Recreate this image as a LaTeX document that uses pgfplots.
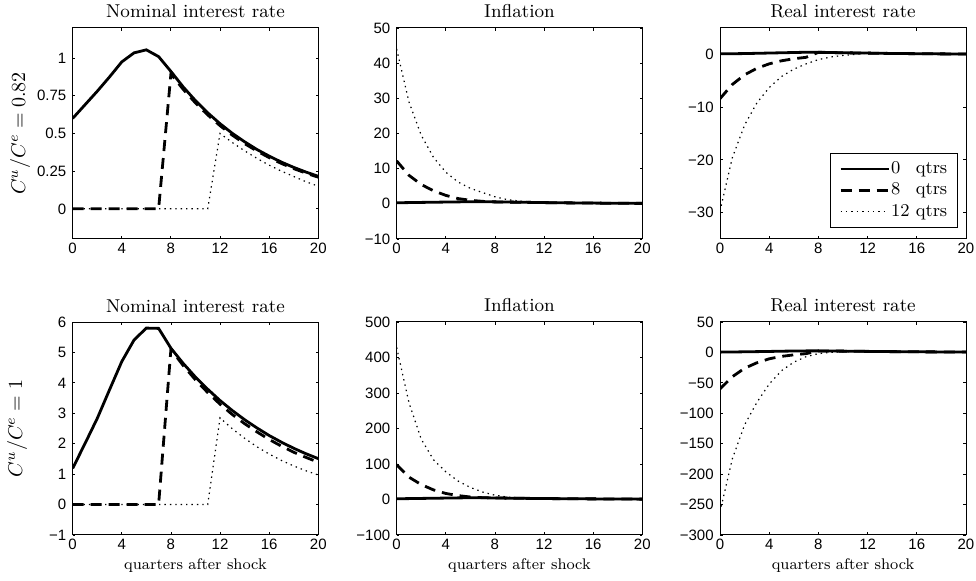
\documentclass[border=0pt]{standalone}
\usepackage{fontspec}
\newfontfamily\helv{Liberation Sans}
\usepackage{pgfplots}
\pgfplotsset{compat=1.18}

\pgfplotsset{
  every axis title shift=0pt,
  panel/.style={
    scale only axis, width=122.8pt, anchor=south west,
    xmin=0, xmax=20, xtick={0,4,...,20}, xticklabels={0,4,8,12,16,20},
    tick align=inside, tick pos=both, major tick length=1.3pt,
    axis line style={line width=0.5pt},
    every tick/.style={black, line width=0.4pt},
    tick label style={font=\helv\fontsize{7.5}{9}\selectfont},
    xticklabel style={anchor=north, inner sep=0pt, yshift=-1.8pt},
    yticklabel style={anchor=east, inner sep=0pt, xshift=-3pt},
    title style={font=\fontsize{9.3}{11}\selectfont, at={(0.5,1)}, anchor=base, yshift=5pt},
    xlabel style={font=\fontsize{7.7}{9}\selectfont, at={(axis description cs:0.5,0)}, anchor=base, yshift=-17.5pt},
    ylabel style={font=\fontsize{10}{12}\selectfont, anchor=center},
  },
  s0/.style={black, line width=1.4pt, solid},
  s8/.style={black, line width=1.4pt, dash pattern=on 5.5pt off 3.5pt},
  s12/.style={black, line width=0.6pt, dash pattern=on 0.7pt off 2pt},
}

\begin{document}
\begin{tikzpicture}
\useasboundingbox (0,0) rectangle (488pt,290.5pt);

% ---------- top row: C^u/C^e = 0.82 ----------
\begin{axis}[panel, at={(36.33pt,171pt)}, height=105.5pt,
  title={Nominal interest rate},
  ymin=-0.2, ymax=1.2, ytick={0,0.25,0.5,0.75,1}, yticklabels={0,0.25,0.5,0.75,1},
  ylabel={$C^u/C^e=0.82$}, ylabel style={at={(axis description cs:-0.214,0.5)}}]
\addplot[s0] coordinates {(0,0.60)(1,0.69)(2,0.78)(3,0.875)(4,0.975)(5,1.035)(6,1.055)(7,1.01)(8,0.912)
  (9,0.809)(10,0.718)(11,0.637)(12,0.565)(13,0.501)(14,0.445)(15,0.394)(16,0.350)(17,0.310)(18,0.275)(19,0.244)(20,0.216)};
\addplot[s8] coordinates {(0,0)(1,0)(2,0)(3,0)(4,0)(5,0)(6,0)(7,0)(8,0.895)
  (9,0.793)(10,0.703)(11,0.623)(12,0.552)(13,0.489)(14,0.433)(15,0.384)(16,0.340)(17,0.301)(18,0.267)(19,0.237)(20,0.210)};
\addplot[s12] coordinates {(0,0)(1,0)(2,0)(3,0)(4,0)(5,0)(6,0)(7,0)(8,0)(9,0)(10,0)(11,0)
  (12,0.50)(13,0.44)(14,0.385)(15,0.335)(16,0.29)(17,0.25)(18,0.215)(19,0.18)(20,0.15)};
\end{axis}

\begin{axis}[panel, at={(198.33pt,171pt)}, height=105.5pt,
  title={Inflation},
  ymin=-10, ymax=50, ytick={-10,0,...,50}, yticklabels={−10,0,10,20,30,40,50}]
\addplot[s0] coordinates {(0,0.3)(1,0.35)(2,0.4)(3,0.45)(4,0.5)(5,0.55)(6,0.6)(7,0.6)(8,0.55)(9,0.5)(10,0.45)
  (11,0.4)(12,0.35)(13,0.3)(14,0.27)(15,0.24)(16,0.21)(17,0.18)(18,0.16)(19,0.14)(20,0.12)};
\addplot[s8] coordinates {(0,12.2)(1,8.1)(2,5.5)(3,3.7)(4,2.4)(5,1.5)(6,1.0)(7,0.7)(8,0.55)(9,0.5)(10,0.45)
  (11,0.4)(12,0.35)(13,0.3)(14,0.27)(15,0.24)(16,0.21)(17,0.18)(18,0.16)(19,0.14)(20,0.12)};
\addplot[s12] coordinates {(0,44)(1,29)(2,19.5)(3,13.2)(4,9.0)(5,6.2)(6,4.4)(7,3.2)(8,2.0)(9,1.2)(10,0.8)
  (11,0.55)(12,0.4)(13,0.3)(14,0.27)(15,0.24)(16,0.21)(17,0.18)(18,0.16)(19,0.14)(20,0.12)};
\end{axis}

\begin{axis}[panel, at={(360pt,171pt)}, height=105.5pt, width=123pt,
  title={Real interest rate},
  ymin=-35, ymax=5, ytick={-30,-20,-10,0}, yticklabels={−30,−20,−10,0},
  legend style={at={(0.9675,0.052)}, anchor=south east, draw=black, line width=0.5pt,
    font=\fontsize{9}{11}\selectfont, inner xsep=4.5pt, inner ysep=3.5pt, row sep=2pt,
    nodes={inner sep=0.6pt}, cells={anchor=west}},
  legend image code/.code={\draw[#1] (0pt,0pt) -- (24pt,0pt);}]
\addplot[s0] coordinates {(0,0.1)(1,0.12)(2,0.15)(3,0.2)(4,0.25)(5,0.3)(6,0.35)(7,0.4)(8,0.4)(9,0.35)(10,0.3)
  (11,0.27)(12,0.24)(13,0.2)(14,0.17)(15,0.15)(16,0.13)(17,0.11)(18,0.09)(19,0.08)(20,0.07)};
\addlegendentry{0\phantom{2} qtrs}
\addplot[s8] coordinates {(0,-8.4)(1,-5.71)(2,-3.88)(3,-2.64)(4,-1.80)(5,-1.22)(6,-0.83)(7,-0.56)(8,0.38)(9,0.35)(10,0.3)
  (11,0.27)(12,0.24)(13,0.2)(14,0.17)(15,0.15)(16,0.13)(17,0.11)(18,0.09)(19,0.08)(20,0.07)};
\addlegendentry{8\phantom{2} qtrs}
\addplot[s12] coordinates {(0,-29.7)(1,-19.6)(2,-13.4)(3,-9.2)(4,-6.3)(5,-4.2)(6,-2.8)(7,-1.8)(8,-1.0)(9,-0.5)(10,-0.2)
  (11,0.0)(12,0.24)(13,0.2)(14,0.17)(15,0.15)(16,0.13)(17,0.11)(18,0.09)(19,0.08)(20,0.07)};
\addlegendentry{12 qtrs}
\end{axis}

% ---------- bottom row: C^u/C^e = 1 ----------
\begin{axis}[panel, at={(36.33pt,23pt)}, height=106.5pt,
  title={Nominal interest rate}, xlabel={quarters after shock},
  ymin=-1, ymax=6, ytick={-1,0,...,6}, yticklabels={−1,0,1,2,3,4,5,6},
  ylabel={$C^u/C^e=1$}, ylabel style={at={(axis description cs:-0.226,0.5)}}]
\addplot[s0] coordinates {(0,1.19)(1,2.0)(2,2.83)(3,3.77)(4,4.7)(5,5.41)(6,5.80)(7,5.79)(8,5.14)(9,4.64)(10,4.19)
  (11,3.79)(12,3.42)(13,3.09)(14,2.79)(15,2.52)(16,2.27)(17,2.05)(18,1.85)(19,1.67)(20,1.51)};
\addplot[s8] coordinates {(0,0)(1,0)(2,0)(3,0)(4,0)(5,0)(6,0)(7,0)(8,5.10)(9,4.57)(10,4.10)
  (11,3.68)(12,3.30)(13,2.96)(14,2.66)(15,2.39)(16,2.14)(17,1.92)(18,1.72)(19,1.55)(20,1.39)};
\addplot[s12] coordinates {(0,0)(1,0)(2,0)(3,0)(4,0)(5,0)(6,0)(7,0)(8,0)(9,0)(10,0)(11,0)
  (12,2.85)(13,2.49)(14,2.18)(15,1.90)(16,1.66)(17,1.45)(18,1.27)(19,1.11)(20,0.97)};
\end{axis}

\begin{axis}[panel, at={(198.33pt,23pt)}, height=106.5pt,
  title={Inflation}, xlabel={quarters after shock},
  ymin=-100, ymax=500, ytick={-100,0,...,500}, yticklabels={−100,0,100,200,300,400,500}]
\addplot[s0] coordinates {(0,2)(1,2.5)(2,3)(3,3.5)(4,4)(5,4.5)(6,4.8)(7,4.8)(8,4.3)(9,3.8)(10,3.4)
  (11,3.0)(12,2.7)(13,2.4)(14,2.1)(15,1.9)(16,1.7)(17,1.5)(18,1.3)(19,1.2)(20,1.0)};
\addplot[s8] coordinates {(0,98)(1,63)(2,42)(3,27)(4,17)(5,11)(6,7)(7,5)(8,4.3)(9,3.8)(10,3.4)
  (11,3.0)(12,2.7)(13,2.4)(14,2.1)(15,1.9)(16,1.7)(17,1.5)(18,1.3)(19,1.2)(20,1.0)};
\addplot[s12] coordinates {(0,428)(1,273)(2,170)(3,112)(4,78)(5,52)(6,34)(7,21)(8,12)(9,7)(10,4.5)
  (11,3.2)(12,2.7)(13,2.4)(14,2.1)(15,1.9)(16,1.7)(17,1.5)(18,1.3)(19,1.2)(20,1.0)};
\end{axis}

\begin{axis}[panel, at={(360pt,23pt)}, height=106.5pt, width=123pt,
  title={Real interest rate}, xlabel={quarters after shock},
  ymin=-300, ymax=50, ytick={-300,-250,...,50}, yticklabels={−300,−250,−200,−150,−100,−50,0,50}]
\addplot[s0] coordinates {(0,0.5)(1,0.7)(2,1)(3,1.3)(4,1.6)(5,2)(6,2.3)(7,2.5)(8,2.5)(9,2.3)(10,2.1)
  (11,1.9)(12,1.7)(13,1.5)(14,1.3)(15,1.2)(16,1.0)(17,0.9)(18,0.8)(19,0.7)(20,0.6)};
\addplot[s8] coordinates {(0,-60)(1,-40)(2,-26)(3,-17)(4,-10.5)(5,-6.5)(6,-4)(7,-2)(8,2.5)(9,2.3)(10,2.1)
  (11,1.9)(12,1.7)(13,1.5)(14,1.3)(15,1.2)(16,1.0)(17,0.9)(18,0.8)(19,0.7)(20,0.6)};
\addplot[s12] coordinates {(0,-262)(1,-175)(2,-119)(3,-82)(4,-52)(5,-30)(6,-16)(7,-7)(8,-2)(9,0)(10,1)
  (11,1.5)(12,1.7)(13,1.5)(14,1.3)(15,1.2)(16,1.0)(17,0.9)(18,0.8)(19,0.7)(20,0.6)};
\end{axis}
\end{tikzpicture}
\end{document}
